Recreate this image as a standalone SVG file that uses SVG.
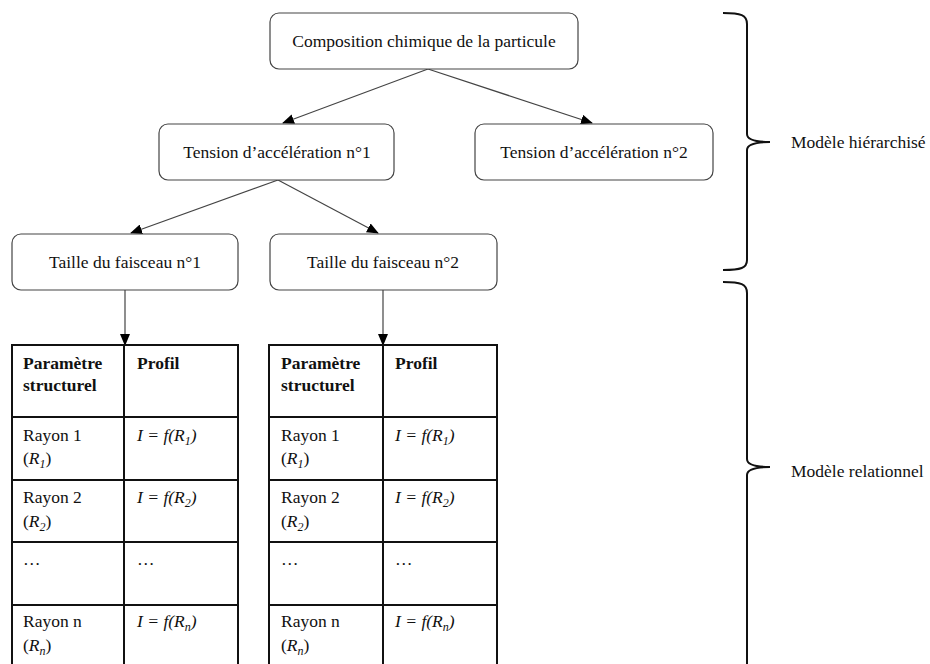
<svg xmlns="http://www.w3.org/2000/svg" width="930" height="664" viewBox="0 0 930 664" font-family="'Liberation Serif', 'Times New Roman', 'DejaVu Serif', serif">
<style>
text { font-family: 'Liberation Serif', 'Times New Roman', 'DejaVu Serif', serif; font-size: 17.5px; fill: #111; }
.c { text-anchor: middle; }
.b { font-weight: bold; }
.i { font-style: italic; }
.box { fill: #fff; stroke: #444; stroke-width: 1.2; }
.conn { stroke: #444; stroke-width: 1.2; fill: none; }
.tbl { stroke: #111; stroke-width: 2; fill: none; }
.brace { stroke: #111; stroke-width: 2; fill: none; }
</style>
<defs>
<marker id="arr" markerWidth="12" markerHeight="10" refX="11" refY="5" orient="auto" markerUnits="userSpaceOnUse">
<path d="M0,0 L12,5 L0,10 Z" fill="#000"/>
</marker>
</defs>
<rect width="930" height="664" fill="#fff"/>

<g id="connectors">
<line class="conn" x1="428" y1="69" x2="283" y2="123" marker-end="url(#arr)"/>
<line class="conn" x1="428" y1="69" x2="592" y2="123" marker-end="url(#arr)"/>
<line class="conn" x1="278" y1="180" x2="131" y2="233" marker-end="url(#arr)"/>
<line class="conn" x1="278" y1="180" x2="378" y2="233" marker-end="url(#arr)"/>
<line class="conn" x1="125" y1="290" x2="125" y2="345" marker-end="url(#arr)"/>
<line class="conn" x1="383" y1="290" x2="383" y2="345" marker-end="url(#arr)"/>
</g>

<g id="composition">
<rect class="box" x="270" y="13" width="308" height="56" rx="9"/>
<text class="c" x="424" y="47">Composition chimique de la particule</text>
</g>
<g id="tension1">
<rect class="box" x="159" y="124" width="235" height="56" rx="9"/>
<text class="c" x="277" y="158">Tension d’accélération n°1</text>
</g>
<g id="tension2">
<rect class="box" x="475" y="124" width="238" height="56" rx="9"/>
<text class="c" x="594" y="158">Tension d’accélération n°2</text>
</g>
<g id="taille1">
<rect class="box" x="12" y="234" width="226" height="56" rx="9"/>
<text class="c" x="125" y="268">Taille du faisceau n°1</text>
</g>
<g id="taille2">
<rect class="box" x="270" y="234" width="227" height="56" rx="9"/>
<text class="c" x="383" y="268">Taille du faisceau n°2</text>
</g>

<g id="table1">
<path class="tbl" d="M12,670 L12,345 L238,345 L238,670 M124,345 L124,670 M12,417 L238,417 M12,480 L238,480 M12,542 L238,542 M12,605 L238,605"/>
<text class="b" x="23" y="369">Paramètre</text>
<text class="b" x="23" y="391">structurel</text>
<text class="b" x="137" y="369">Profil</text>
<text x="23" y="441">Rayon 1</text>
<text x="23" y="464">(<tspan class="i">R</tspan><tspan class="i" font-size="12" dy="4">1</tspan><tspan dy="-4">)</tspan></text>
<text class="i" x="137" y="441">I = f(R<tspan font-size="12" dy="4">1</tspan><tspan dy="-4">)</tspan></text>
<text x="23" y="503">Rayon 2</text>
<text x="23" y="527">(<tspan class="i">R</tspan><tspan class="i" font-size="12" dy="4">2</tspan><tspan dy="-4">)</tspan></text>
<text class="i" x="137" y="503">I = f(R<tspan font-size="12" dy="4">2</tspan><tspan dy="-4">)</tspan></text>
<text x="23" y="565">…</text>
<text x="137" y="565">…</text>
<text x="23" y="627">Rayon n</text>
<text x="23" y="651">(<tspan class="i">R</tspan><tspan class="i" font-size="12" dy="4">n</tspan><tspan dy="-4">)</tspan></text>
<text class="i" x="137" y="627">I = f(R<tspan font-size="12" dy="4">n</tspan><tspan dy="-4">)</tspan></text>
</g>

<g id="table2">
<path class="tbl" d="M269,670 L269,345 L497,345 L497,670 M383,345 L383,670 M269,417 L497,417 M269,480 L497,480 M269,542 L497,542 M269,605 L497,605"/>
<text class="b" x="281" y="369">Paramètre</text>
<text class="b" x="281" y="391">structurel</text>
<text class="b" x="395" y="369">Profil</text>
<text x="281" y="441">Rayon 1</text>
<text x="281" y="464">(<tspan class="i">R</tspan><tspan class="i" font-size="12" dy="4">1</tspan><tspan dy="-4">)</tspan></text>
<text class="i" x="395" y="441">I = f(R<tspan font-size="12" dy="4">1</tspan><tspan dy="-4">)</tspan></text>
<text x="281" y="503">Rayon 2</text>
<text x="281" y="527">(<tspan class="i">R</tspan><tspan class="i" font-size="12" dy="4">2</tspan><tspan dy="-4">)</tspan></text>
<text class="i" x="395" y="503">I = f(R<tspan font-size="12" dy="4">2</tspan><tspan dy="-4">)</tspan></text>
<text x="281" y="565">…</text>
<text x="395" y="565">…</text>
<text x="281" y="627">Rayon n</text>
<text x="281" y="651">(<tspan class="i">R</tspan><tspan class="i" font-size="12" dy="4">n</tspan><tspan dy="-4">)</tspan></text>
<text class="i" x="395" y="627">I = f(R<tspan font-size="12" dy="4">n</tspan><tspan dy="-4">)</tspan></text>
</g>

<g id="brace-hier">
<path class="brace" d="M723,13 C741,13 747,15 747,24 L747,134 C747,140 755,142 770,142 C755,142 747,144 747,150 L747,260 C747,268 741,270 723,270"/>
<text x="791" y="148">Modèle hiérarchisé</text>
</g>
<g id="brace-rel">
<path class="brace" d="M723,282 C741,282 747,284 747,293 L747,459 C747,465 755,467 770,467 C755,467 747,469 747,475 L747,670"/>
<text x="791" y="477">Modèle relationnel</text>
</g>
</svg>
